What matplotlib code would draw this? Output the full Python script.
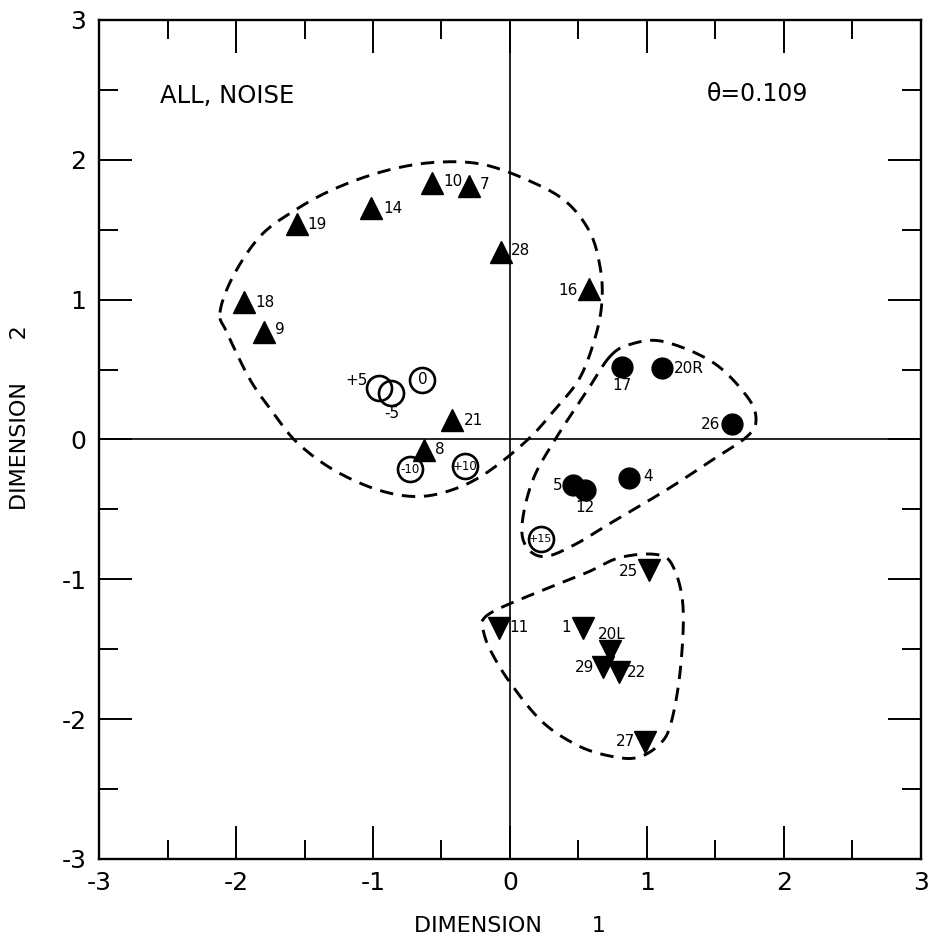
import numpy as np
import matplotlib
matplotlib.use("Agg")
import matplotlib.pyplot as plt
from matplotlib.ticker import MultipleLocator, FixedLocator

plt.rcParams['font.family'] = ['DejaVu Sans']
plt.rcParams['axes.unicode_minus'] = False

# ---------------- data ----------------
up_labels = ["19", "14", "10", "7", "28", "18", "9", "21", "8", "16"]
up_x = [-1.555, -1.015, -0.569, -0.299, -0.069, -1.945, -1.792, -0.427, -0.628, 0.573]
up_y = [1.538, 1.652, 1.831, 1.813, 1.338, 0.980, 0.769, 0.136, -0.072, 1.077]

down_labels = ["25", "11", "1", "20L", "29", "22", "27"]
down_x = [1.015, -0.080, 0.533, 0.730, 0.679, 0.796, 0.985]
down_y = [-0.930, -1.345, -1.345, -1.509, -1.624, -1.660, -2.160]

dot_labels = ["17", "20R", "26", "5", "12", "4"]
dot_x = [0.814, 1.113, 1.620, 0.460, 0.547, 0.869]
dot_y = [0.519, 0.511, 0.114, -0.322, -0.358, -0.275]

ring_labels = ["+5", "-5", "0", "-10", "+10", "+15"]
ring_x = [-0.953, -0.865, -0.639, -0.730, -0.328, 0.226]
ring_y = [0.368, 0.333, 0.426, -0.211, -0.190, -0.715]

# cluster boundaries (outline vertices, data units)
c1_x = [-2.117, -2.022, -1.825, -1.584, -1.292, -0.927, -0.562, -0.197, 0.168, 0.416,
        0.584, 0.657, 0.672, 0.628, 0.511, 0.328, 0.131, -0.168, -0.416, -0.679,
        -0.971, -1.292, -1.555, -1.730, -1.898, -2.066]
c1_y = [0.908, 1.166, 1.452, 1.631, 1.788, 1.917, 1.981, 1.967, 1.838, 1.695,
        1.481, 1.237, 1.001, 0.751, 0.443, 0.215, 0.000, -0.236, -0.358, -0.408,
        -0.358, -0.215, -0.021, 0.193, 0.429, 0.765]
c2_x = [0.730, 0.876, 1.117, 1.482, 1.730, 1.796, 1.730, 1.482, 1.146, 0.752,
        0.474, 0.255, 0.124, 0.088, 0.168, 0.343, 0.569]
c2_y = [0.594, 0.680, 0.701, 0.551, 0.308, 0.143, 0.021, -0.143, -0.358, -0.587,
        -0.751, -0.837, -0.773, -0.608, -0.286, 0.021, 0.358]
c3_x = [-0.197, -0.095, 0.197, 0.562, 0.803, 1.073, 1.190, 1.263, 1.241, 1.168,
        1.073, 0.927, 0.752, 0.511, 0.241, 0.000, -0.146, -0.197]
c3_y = [-1.288, -1.216, -1.094, -0.951, -0.844, -0.823, -0.908, -1.195, -1.667, -2.053,
        -2.196, -2.275, -2.268, -2.196, -2.024, -1.738, -1.502, -1.359]

tick_vals = [-3, -2, -1, 0, 1, 2, 3]
tick_text = ["-3", "-2", "-1", "0", "1", "2", "3"]

# label placement (offsets in pixels, horizontal alignment)
up_off = [(10, 0, 'left'), (12, 0, 'left'), (11, -2, 'left'), (11, -1, 'left'),
          (10, -2, 'left'), (12, 0, 'left'), (11, -2, 'left'), (12, 0, 'left'),
          (11, 0, 'left'), (-11, 2, 'right')]
down_off = [(-11, 2, 'right'), (10, 0, 'left'), (-12, 0, 'right'), (2, -16, 'center'),
            (-9, 1, 'right'), (8, 1, 'left'), (-10, 0, 'right')]
dot_off = [(0, 19, 'center'), (11, 0, 'left'), (-12, 1, 'right'), (-11, 1, 'right'),
           (0, 18, 'center'), (14, -1, 'left')]
ring_off = [(-12, -8, 'right'), (0, 21, 'center'), (0, 0, 'center'), (0, 0, 'center'),
            (0, 0, 'center'), (0, 0, 'center')]
ring_size = [None, None, 11, 8.5, 8.5, 8]


def smooth_closed(xs, ys, n=24):
    P = np.column_stack([xs, ys])
    N = len(P)
    t = np.linspace(0, 1, n, endpoint=False)[:, None]
    segs = []
    for i in range(N):
        p0, p1, p2, p3 = P[(i - 1) % N], P[i], P[(i + 1) % N], P[(i + 2) % N]
        segs.append(0.5 * (2 * p1 + (-p0 + p2) * t + (2 * p0 - 5 * p1 + 4 * p2 - p3) * t ** 2
                           + (-p0 + 3 * p1 - 3 * p2 + p3) * t ** 3))
    segs.append(P[:1])
    return np.vstack(segs)


W, H = 932, 940
fig = plt.figure(figsize=(W / 100, H / 100), dpi=100)
ax = fig.add_axes([99 / W, 1 - 859 / H, 822 / W, 839 / H])
ax.set_xlim(-3, 3)
ax.set_ylim(-3, 3)

for s in ax.spines.values():
    s.set_linewidth(1.7)

ax.xaxis.set_major_locator(FixedLocator(tick_vals))
ax.yaxis.set_major_locator(FixedLocator(tick_vals))
ax.set_xticklabels(tick_text)
ax.set_yticklabels(tick_text)
ax.xaxis.set_minor_locator(MultipleLocator(0.5))
ax.yaxis.set_minor_locator(MultipleLocator(0.5))
ax.tick_params(which='both', direction='in', top=True, right=True, width=1.4)
ax.tick_params(which='major', length=24, labelsize=18, pad=9)
ax.tick_params(which='minor', length=14)

ax.axhline(0, color='black', lw=1.2, zorder=1)
ax.axvline(0, color='black', lw=1.2, zorder=1)

for cx, cy in [(c1_x, c1_y), (c2_x, c2_y), (c3_x, c3_y)]:
    pts = smooth_closed(cx, cy)
    ax.plot(pts[:, 0], pts[:, 1], color='black', lw=2.1, linestyle=(0, (4.6, 3.0)), zorder=2)

ax.plot(up_x, up_y, linestyle='none', marker='^', ms=16, color='black', zorder=4)
ax.plot(down_x, down_y, linestyle='none', marker='v', ms=16, color='black', zorder=4)
ax.plot(dot_x, dot_y, linestyle='none', marker='o', ms=15, color='black', zorder=4)
ax.plot(ring_x, ring_y, linestyle='none', marker='o', ms=18, mfc='none', mec='black',
        mew=1.9, zorder=4)

k = 0.72  # px -> pt
def put(labels, xs, ys, offs, sizes=None):
    for i, (lab, x, y, (dx, dy, ha)) in enumerate(zip(labels, xs, ys, offs)):
        fs = 11 if sizes is None or sizes[i] is None else sizes[i]
        ax.annotate(lab, (x, y), xytext=(dx * k, -dy * k), textcoords='offset points',
                    ha=ha, va='center', fontsize=fs, zorder=5)

put(up_labels, up_x, up_y, up_off)
put(down_labels, down_x, down_y, down_off)
put(dot_labels, dot_x, dot_y, dot_off)
put(ring_labels, ring_x, ring_y, ring_off, ring_size)

ax.text(-2.555, 2.453, "ALL, NOISE", fontsize=17.5, ha='left', va='center')
ax.text(1.438, 2.47, "θ=0.109", fontsize=17, ha='left', va='center')

ax.set_xlabel("DIMENSION       1", fontsize=16)
ax.xaxis.set_label_coords(0.5, (859 - 916) / 839)
ax.set_ylabel("DIMENSION      2", fontsize=16)
ax.yaxis.set_label_coords((30 - 99) / 822, (859 - 418) / 839)

fig.savefig("out.png", dpi=100)
